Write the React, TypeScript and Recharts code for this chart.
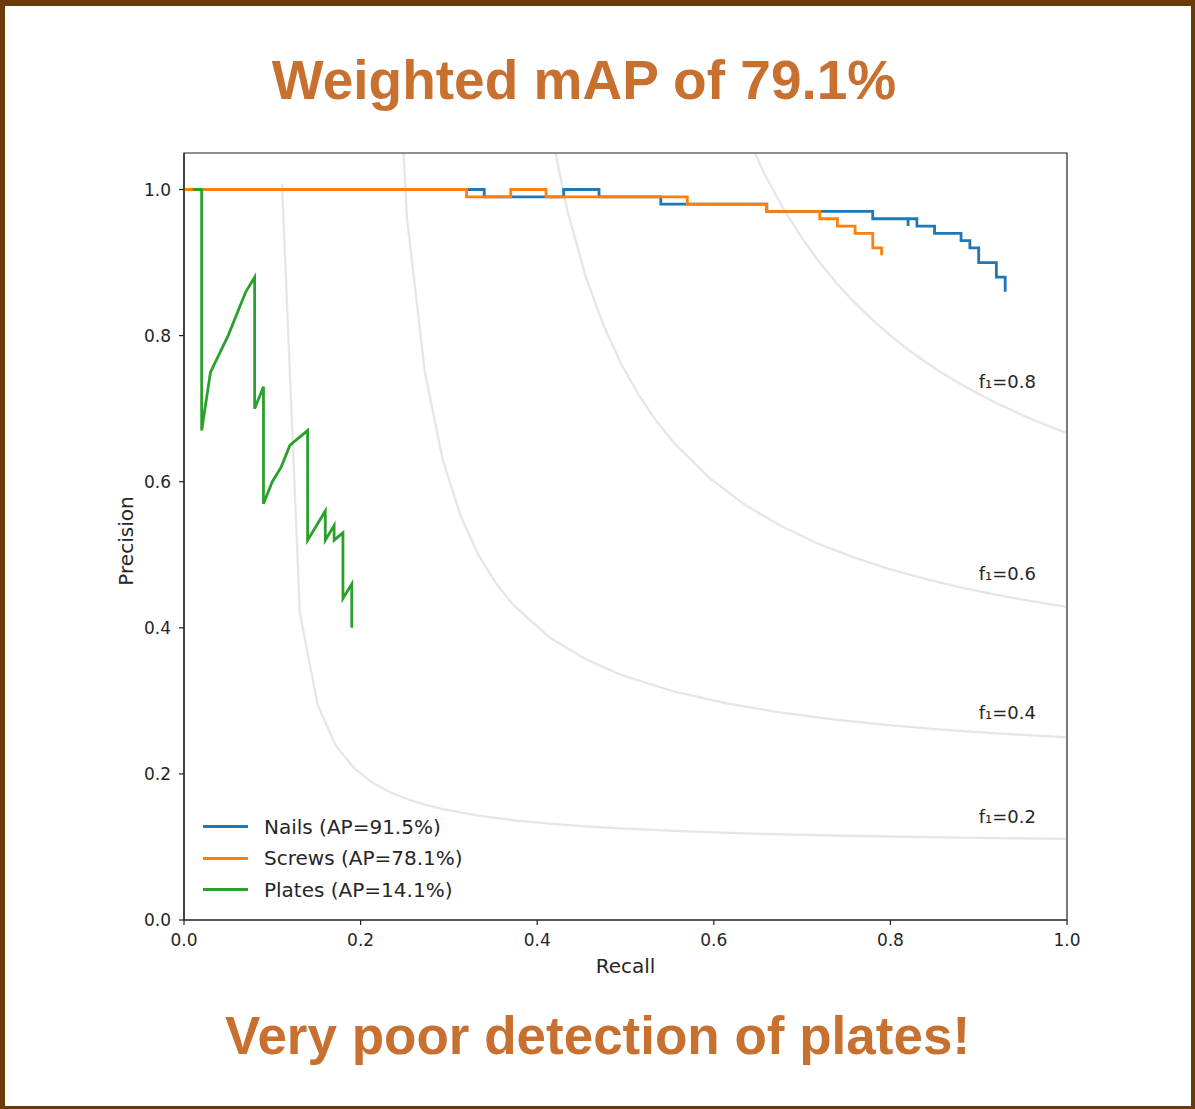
import React from 'react';
import {
  LineChart,
  Line,
  XAxis,
  YAxis,
  Legend,
  ReferenceArea,
  ReferenceDot,
} from 'recharts';

const seriesNames = ['Nails (AP=91.5%)', 'Screws (AP=78.1%)', 'Plates (AP=14.1%)'];
const seriesColors = ['#1f77b4', '#ff7f0e', '#2ca02c'];

// precision/recall curves, vertices (steps are drawn as pairs)
const nailsRecall = [0, 0.34, 0.34, 0.43, 0.43, 0.47, 0.47, 0.54, 0.54, 0.66, 0.66, 0.78, 0.78, 0.82, 0.82, 0.82, 0.83, 0.83, 0.85, 0.85, 0.88, 0.88, 0.89, 0.89, 0.9, 0.9, 0.92, 0.92, 0.93, 0.93];
const nailsPrecision = [1, 1, 0.99, 0.99, 1, 1, 0.99, 0.99, 0.98, 0.98, 0.97, 0.97, 0.96, 0.96, 0.95, 0.96, 0.96, 0.95, 0.95, 0.94, 0.94, 0.93, 0.93, 0.92, 0.92, 0.9, 0.9, 0.88, 0.88, 0.86];

const screwsRecall = [0, 0.32, 0.32, 0.37, 0.37, 0.41, 0.41, 0.57, 0.57, 0.66, 0.66, 0.72, 0.72, 0.74, 0.74, 0.76, 0.76, 0.78, 0.78, 0.79, 0.79];
const screwsPrecision = [1, 1, 0.99, 0.99, 1, 1, 0.99, 0.99, 0.98, 0.98, 0.97, 0.97, 0.96, 0.96, 0.95, 0.95, 0.94, 0.94, 0.92, 0.92, 0.91];

const platesRecall = [0.01, 0.02, 0.02, 0.03, 0.05, 0.07, 0.08, 0.08, 0.09, 0.09, 0.1, 0.11, 0.12, 0.14, 0.14, 0.16, 0.16, 0.17, 0.17, 0.18, 0.18, 0.19, 0.19];
const platesPrecision = [1, 1, 0.67, 0.75, 0.8, 0.86, 0.88, 0.7, 0.73, 0.57, 0.6, 0.62, 0.65, 0.67, 0.52, 0.56, 0.52, 0.54, 0.52, 0.53, 0.44, 0.46, 0.4];

// iso-f1 reference curves
const isoLevels = [0.2, 0.4, 0.6, 0.8];
const iso02Recall = [0.111, 0.1312, 0.1514, 0.1716, 0.1918, 0.212, 0.2322, 0.2524, 0.2727, 0.2929, 0.3333, 0.3737, 0.4141, 0.4545, 0.4949, 0.5555, 0.6161, 0.6767, 0.7373, 0.798, 0.8586, 0.9192, 1.0];
const iso02Precision = [1.0074, 0.4203, 0.2944, 0.2396, 0.2089, 0.1893, 0.1756, 0.1656, 0.1579, 0.1519, 0.1429, 0.1365, 0.1318, 0.1282, 0.1253, 0.122, 0.1194, 0.1173, 0.1157, 0.1143, 0.1132, 0.1122, 0.1111];
const iso04Recall = [0.2322, 0.2524, 0.2727, 0.2929, 0.3131, 0.3333, 0.3535, 0.3737, 0.4141, 0.4545, 0.4949, 0.5555, 0.6161, 0.6767, 0.7373, 0.798, 0.8586, 0.9192, 1.0];
const iso04Precision = [1.4405, 0.9627, 0.7506, 0.6308, 0.5538, 0.5002, 0.4606, 0.4303, 0.3868, 0.3572, 0.3356, 0.3125, 0.2961, 0.2839, 0.2744, 0.2669, 0.2607, 0.2556, 0.25];
const iso06Recall = [0.3939, 0.4141, 0.4343, 0.4545, 0.4747, 0.4949, 0.5151, 0.5353, 0.5555, 0.5959, 0.6363, 0.6767, 0.7171, 0.7576, 0.798, 0.8384, 0.8788, 0.9192, 0.9596, 1.0];
const iso06Precision = [1.2587, 1.0889, 0.9702, 0.8826, 0.8152, 0.7618, 0.7184, 0.6825, 0.6522, 0.6042, 0.5676, 0.5389, 0.5158, 0.4967, 0.4807, 0.4672, 0.4555, 0.4454, 0.4365, 0.4286];
const iso08Recall = [0.6161, 0.6363, 0.6565, 0.6767, 0.6969, 0.7171, 0.7373, 0.7576, 0.7778, 0.798, 0.8182, 0.8384, 0.8586, 0.8788, 0.899, 0.9192, 0.9394, 0.9596, 0.9798, 1.0];
const iso08Precision = [1.1403, 1.077, 1.0237, 0.9782, 0.9388, 0.9045, 0.8743, 0.8475, 0.8236, 0.8021, 0.7826, 0.765, 0.7489, 0.7342, 0.7207, 0.7082, 0.6966, 0.6859, 0.676, 0.6667];
const isoLabelRecall = 0.9;
const isoLabelPrecision = [0.1322, 0.2756, 0.4654, 0.7282];

const axisTicks = [0, 0.2, 0.4, 0.6, 0.8, 1.0];

const toPoints = (r: number[], p: number[]) => r.map((x, i) => ({ x, y: p[i] }));

const prSeries = [
  toPoints(nailsRecall, nailsPrecision),
  toPoints(screwsRecall, screwsPrecision),
  toPoints(platesRecall, platesPrecision),
];
const isoSeries = [
  toPoints(iso02Recall, iso02Precision),
  toPoints(iso04Recall, iso04Precision),
  toPoints(iso06Recall, iso06Precision),
  toPoints(iso08Recall, iso08Precision),
];

const FONT = '"DejaVu Sans", sans-serif';
const TEXT = '#262626';
const ACCENT = '#c87030';

// legend keeps the plotting order, not recharts' alphabetical one
const renderLegend = (props: any) => {
  const items = (props.payload || [])
    .filter((p: any) => p.type !== 'none' && seriesNames.includes(p.value))
    .sort((a: any, b: any) => seriesNames.indexOf(a.value) - seriesNames.indexOf(b.value));
  return (
    <div style={{ fontFamily: FONT, fontSize: 20, color: TEXT }}>
      {items.map((p: any) => (
        <div key={p.value} style={{ display: 'flex', alignItems: 'center', height: 31.5 }}>
          <span
            style={{ display: 'inline-block', width: 45, height: 3, background: p.color, marginRight: 16 }}
          />
          <span style={{ whiteSpace: 'nowrap' }}>{p.value}</span>
        </div>
      ))}
    </div>
  );
};

export default function App() {
  return (
    <div
      style={{
        position: 'absolute',
        left: 0,
        top: 0,
        width: 1195,
        height: 1109,
        background: '#fff',
        overflow: 'hidden',
      }}
    >
      <div
        style={{
          position: 'absolute',
          left: 0,
          top: 53,
          width: 1168,
          textAlign: 'center',
          fontFamily: '"Liberation Sans", Arial, sans-serif',
          fontWeight: 700,
          fontSize: 55,
          lineHeight: 1,
          color: ACCENT,
        }}
      >
        Weighted mAP of 79.1%
      </div>

      <div style={{ position: 'absolute', left: 0, top: 0 }}>
        <LineChart width={1195} height={1000} margin={{ top: 153, right: 128, bottom: 20, left: 104 }}>
          <XAxis
            type="number"
            dataKey="x"
            domain={[0, 1]}
            ticks={axisTicks}
            allowDataOverflow
            height={60}
            stroke="#222"
            strokeWidth={1.2}
            tickSize={5}
            tickMargin={9}
            tick={{ fill: TEXT, fontSize: 17, fontFamily: FONT }}
            tickFormatter={(v: number) => v.toFixed(1)}
            label={(p: any) => (
              <text x={625.5} y={973} textAnchor="middle" fill={TEXT} fontSize={20} fontFamily={FONT}>
                Recall
              </text>
            )}
          />
          <YAxis
            type="number"
            domain={[0, 1.05]}
            ticks={axisTicks}
            allowDataOverflow
            width={80}
            stroke="#222"
            strokeWidth={1.2}
            tickSize={5}
            tickMargin={8}
            tick={{ fill: TEXT, fontSize: 17, fontFamily: FONT }}
            tickFormatter={(v: number) => v.toFixed(1)}
            label={(p: any) => (
              <text
                x={133}
                y={541}
                textAnchor="middle"
                transform="rotate(-90 133 541)"
                fill={TEXT}
                fontSize={20}
                fontFamily={FONT}
              >
                Precision
              </text>
            )}
          />
          <ReferenceArea x1={0} x2={1} y1={0} y2={1.05} fill="none" fillOpacity={0} stroke="#222" strokeWidth={1.2} />

          {isoSeries.map((d, i) => (
            <Line
              key={'iso' + isoLevels[i]}
              data={d}
              dataKey="y"
              type="linear"
              stroke="#808080"
              strokeOpacity={0.2}
              strokeWidth={2.3}
              dot={false}
              activeDot={false}
              legendType="none"
              isAnimationActive={false}
            />
          ))}
          {isoLevels.map((f, i) => (
            <ReferenceDot
              key={'lbl' + f}
              x={isoLabelRecall}
              y={isoLabelPrecision[i]}
              r={0}
              fill="none"
              stroke="none"
              label={(p: any) => (
                <text
                  x={p.viewBox.x}
                  y={p.viewBox.y}
                  fill={TEXT}
                  fontSize={18}
                  fontFamily={FONT}
                >
                  {'f\u2081=' + f.toFixed(1)}
                </text>
              )}
            />
          ))}

          {prSeries.map((d, i) => (
            <Line
              key={seriesNames[i]}
              name={seriesNames[i]}
              data={d}
              dataKey="y"
              type="linear"
              stroke={seriesColors[i]}
              strokeWidth={2.8}
              dot={false}
              activeDot={false}
              isAnimationActive={false}
            />
          ))}

          <Legend
            layout="vertical"
            align="center"
            verticalAlign="middle"
            content={renderLegend}
            wrapperStyle={{ left: 203, top: 811, right: 'auto', bottom: 'auto', width: 320, height: 'auto' }}
          />
        </LineChart>
      </div>

      <div
        style={{
          position: 'absolute',
          left: 0,
          top: 1009,
          width: 1195,
          textAlign: 'center',
          fontFamily: '"Liberation Sans", Arial, sans-serif',
          fontWeight: 700,
          fontSize: 53,
          lineHeight: 1,
          color: ACCENT,
        }}
      >
        Very poor detection of plates!
      </div>

      <div
        style={{
          position: 'absolute',
          inset: 0,
          borderStyle: 'solid',
          borderColor: '#6a3a08',
          borderWidth: '6px 4px 3px 5px',
          pointerEvents: 'none',
        }}
      />
    </div>
  );
}
